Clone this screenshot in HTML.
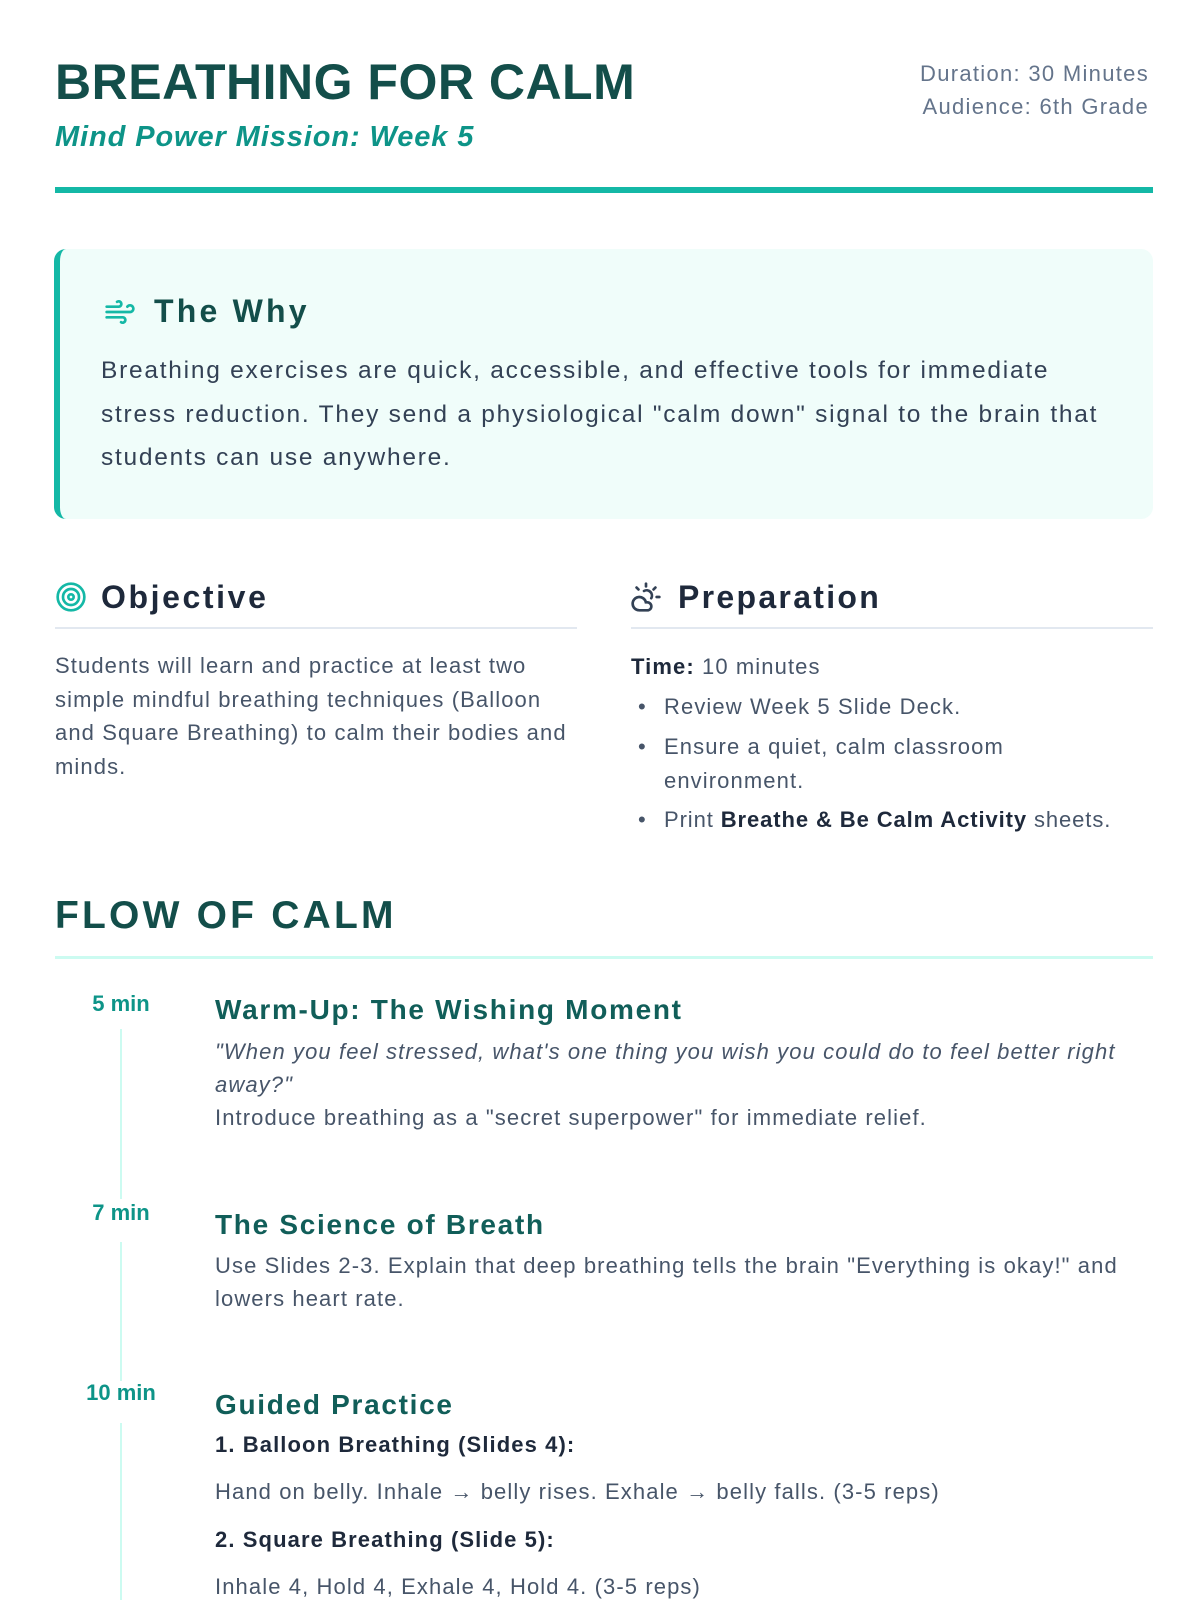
<!DOCTYPE html>
<html><head><meta charset="utf-8"><style>
*{margin:0;padding:0;box-sizing:border-box}
body{width:1200px;height:1600px;background:#fff;position:relative;overflow:hidden;font-family:"Liberation Sans",sans-serif;}
.a{position:absolute;white-space:nowrap}
.t{color:#134e4a;font-weight:bold}
.p{color:#475569;font-size:22px;letter-spacing:1.1px}
</style></head><body>
<div class="a t" style="left:55px;top:52px;font-size:50px;line-height:60px;letter-spacing:0.5px">BREATHING FOR CALM</div>
<div class="a" style="left:55px;top:121px;font-size:29px;line-height:32px;font-style:italic;font-weight:bold;color:#0d9488;letter-spacing:0.9px">Mind Power Mission: Week 5</div>
<div class="a" style="right:51px;top:57px;font-size:22px;line-height:33px;color:#64748b;text-align:right;letter-spacing:1.3px">Duration: 30 Minutes<br>Audience: 6th Grade</div>
<div class="a" style="left:55px;top:187px;width:1098px;height:6px;background:#14b8a6"></div>

<div class="a" style="left:54px;top:249px;width:1099px;height:270px;background:#f0fdfa;border-left:6px solid #14b8a6;border-radius:12px"></div>
<svg class="a" style="left:100px;top:296px" width="40" height="32" viewBox="0 0 24 24" fill="none" stroke="#14b8a6" stroke-width="2" stroke-linecap="round"><path d="M12.8 19.6A2 2 0 1 0 14 16H2"/><path d="M17.5 8a2.5 2.5 0 1 1 2 4H2"/><path d="M9.8 4.4A2 2 0 1 1 11 8H2"/></svg>
<div class="a t" style="left:154px;top:292px;font-size:32px;line-height:38px;letter-spacing:3.2px">The Why</div>
<div class="a" style="left:101px;top:349px;font-size:24.5px;line-height:43.5px;color:#334155;letter-spacing:1.75px">Breathing exercises are quick, accessible, and effective tools for immediate<br>stress reduction. They send a physiological "calm down" signal to the brain that<br>students can use anywhere.</div>

<svg class="a" style="left:55px;top:581px" width="32" height="32" viewBox="0 0 24 24" fill="none" stroke="#14b8a6" stroke-width="2"><circle cx="12" cy="12" r="10"/><circle cx="12" cy="12" r="6"/><circle cx="12" cy="12" r="2"/></svg>
<div class="a" style="left:101px;top:577px;font-size:32px;line-height:40px;font-weight:bold;color:#1e293b;letter-spacing:2.6px">Objective</div>
<div class="a" style="left:55px;top:627px;width:522px;height:2px;background:#e2e8f0"></div>
<div class="a p" style="left:55px;top:649px;line-height:33.5px">Students will learn and practice at least two<br>simple mindful breathing techniques (Balloon<br>and Square Breathing) to calm their bodies and<br>minds.</div>

<svg class="a" style="left:630px;top:581px" width="32" height="32" viewBox="0 0 24 24" fill="none" stroke="#334155" stroke-width="2" stroke-linecap="round"><path d="M12 2v2"/><path d="m4.93 4.93 1.41 1.41"/><path d="M20 12h2"/><path d="m19.07 4.93-1.41 1.41"/><path d="M15.95 12.95A4 4 0 0 0 10.5 7.5"/><path d="M13 22H7a5 5 0 1 1 4.9-6H13a3 3 0 0 1 0 6Z"/></svg>
<div class="a" style="left:678px;top:577px;font-size:32px;line-height:40px;font-weight:bold;color:#1e293b;letter-spacing:2.3px">Preparation</div>
<div class="a" style="left:631px;top:627px;width:522px;height:2px;background:#e2e8f0"></div>
<div class="a p" style="left:631px;top:650px;line-height:33px"><b style="color:#1e293b">Time:</b> 10 minutes</div>
<div class="a p" style="left:638px;top:690px;line-height:33px">•</div><div class="a p" style="left:664px;top:690px;line-height:33px">Review Week 5 Slide Deck.</div>
<div class="a p" style="left:638px;top:730px;line-height:33px">•</div><div class="a p" style="left:664px;top:730px;line-height:33.5px">Ensure a quiet, calm classroom<br>environment.</div>
<div class="a p" style="left:638px;top:803px;line-height:33px">•</div><div class="a p" style="left:664px;top:803px;line-height:33px;letter-spacing:0.9px">Print <b style="color:#1e293b">Breathe &amp; Be Calm Activity</b> sheets.</div>

<div class="a t" style="left:55px;top:893px;font-size:39px;line-height:46px;letter-spacing:3.2px">FLOW OF CALM</div>
<div class="a" style="left:55px;top:956px;width:1098px;height:3px;background:#ccfbf1"></div>

<div class="a" style="left:120px;top:1029px;width:2px;height:170px;background:#ccfbf1"></div>
<div class="a" style="left:120px;top:1242px;width:2px;height:139px;background:#ccfbf1"></div>
<div class="a" style="left:120px;top:1423px;width:2px;height:177px;background:#ccfbf1"></div>
<div class="a" style="left:71px;width:100px;text-align:center;top:989px;font-size:22px;line-height:30px;font-weight:bold;color:#0d9488">5 min</div>
<div class="a" style="left:71px;width:100px;text-align:center;top:1198px;font-size:22px;line-height:30px;font-weight:bold;color:#0d9488">7 min</div>
<div class="a" style="left:71px;width:100px;text-align:center;top:1378px;font-size:22px;line-height:30px;font-weight:bold;color:#0d9488">10 min</div>

<div class="a" style="left:215px;top:992px;font-size:28px;line-height:36px;font-weight:bold;color:#115e59;letter-spacing:1.7px">Warm-Up: The Wishing Moment</div>
<div class="a p" style="left:215px;top:1035px;line-height:33px;font-style:italic">"When you feel stressed, what's one thing you wish you could do to feel better right<br>away?"</div>
<div class="a p" style="left:215px;top:1101px;line-height:33px">Introduce breathing as a "secret superpower" for immediate relief.</div>

<div class="a" style="left:215px;top:1207px;font-size:28px;line-height:36px;font-weight:bold;color:#115e59;letter-spacing:1.7px">The Science of Breath</div>
<div class="a p" style="left:215px;top:1249px;line-height:33px">Use Slides 2-3. Explain that deep breathing tells the brain "Everything is okay!" and<br>lowers heart rate.</div>

<div class="a" style="left:215px;top:1387px;font-size:28px;line-height:36px;font-weight:bold;color:#115e59;letter-spacing:1.7px">Guided Practice</div>
<div class="a p" style="left:215px;top:1428px;line-height:33px;font-weight:bold;color:#1e293b">1. Balloon Breathing (Slides 4):</div>
<div class="a p" style="left:215px;top:1475px;line-height:33px">Hand on belly. Inhale → belly rises. Exhale → belly falls. (3-5 reps)</div>
<div class="a p" style="left:215px;top:1523px;line-height:33px;font-weight:bold;color:#1e293b">2. Square Breathing (Slide 5):</div>
<div class="a p" style="left:215px;top:1570px;line-height:33px">Inhale 4, Hold 4, Exhale 4, Hold 4. (3-5 reps)</div>
</body></html>
